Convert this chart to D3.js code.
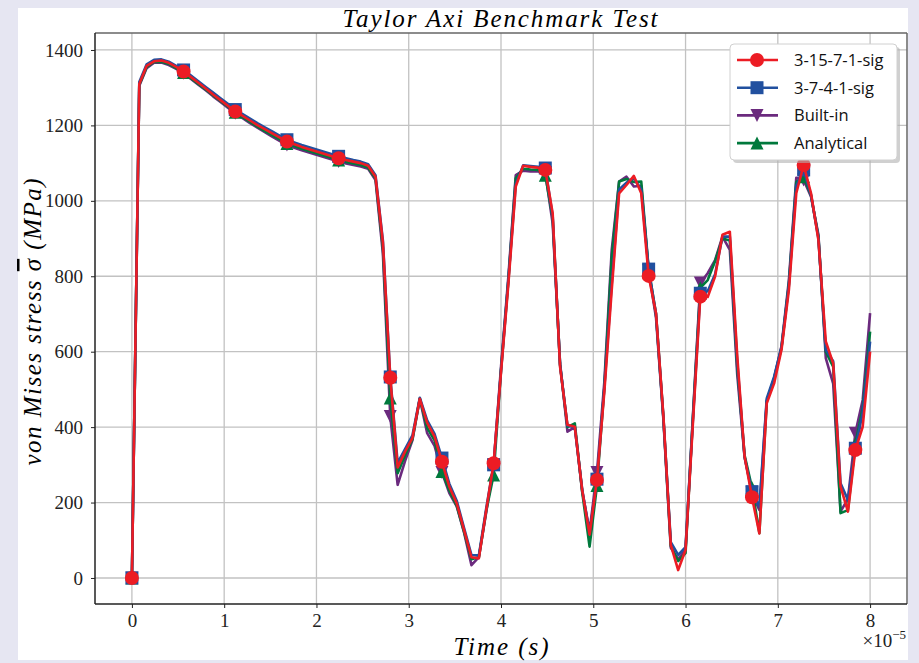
<!DOCTYPE html>
<html>
<head>
<meta charset="utf-8">
<script src="https://cdn.jsdelivr.net/npm/d3@7"></script>
<style>
  body { margin: 0; background: #e6e6f2; }
  svg { display: block; }
</style>
</head>
<body>
<svg id="chart" width="919" height="663"></svg>
<script>
// time in units of 1e-5 s
var time = [0,0.08,0.16,0.24,0.32,0.4,0.48,0.56,0.64,0.72,0.8,0.88,0.96,1.04,1.12,1.2,1.28,1.36,1.44,1.52,
  1.6,1.68,1.76,1.84,1.92,2,2.08,2.16,2.24,2.32,2.4,2.48,2.56,2.64,2.72,2.8,2.88,2.96,3.04,3.12,
  3.2,3.28,3.36,3.44,3.52,3.6,3.68,3.76,3.84,3.92,4,4.08,4.16,4.24,4.32,4.4,4.48,4.56,4.64,4.72,
  4.8,4.88,4.96,5.04,5.12,5.2,5.28,5.36,5.44,5.52,5.6,5.68,5.76,5.84,5.92,6,6.08,6.16,6.24,6.32,
  6.4,6.48,6.56,6.64,6.72,6.8,6.88,6.96,7.04,7.12,7.2,7.28,7.36,7.44,7.52,7.6,7.68,7.76,7.84,7.92,8];

var net3_15_7_1 = [0,1310,1358,1370,1372,1366,1355,1343,1328,1313,
  1298,1282,1267,1252,1237,1225,1213,1201,1190,1179,
  1168,1157,1150,1143,1137,1131,1125,1119,1113,1108,
  1104,1100,1093,1064,890,531,293,335,371,475,
  411,375,308,242,198,127,55,52,180,304,
  545,780,1038,1093,1090,1088,1082,967,560,406,
  401,233,115,260,494,764,1020,1042,1066,1020,
  801,702,430,88,21,74,411,746,745,799,
  910,918,590,322,214,118,463,516,605,764,
  1020,1095,1020,896,627,569,242,176,339,401,
  600];

var net3_7_4_1 = [0,1315,1362,1374,1375,1369,1358,1347,1332,1317,
  1302,1287,1272,1257,1242,1230,1218,1206,1195,1184,
  1173,1162,1155,1148,1142,1136,1130,1124,1118,1113,
  1108,1104,1097,1068,895,533,305,342,378,478,
  418,382,318,250,205,132,61,60,185,300,
  550,790,1045,1094,1092,1090,1087,960,565,404,
  400,235,118,262,505,780,1030,1048,1060,1030,
  819,700,425,95,61,82,420,755,760,805,
  905,905,575,320,229,189,476,534,612,775,
  1040,1082,1015,900,605,575,251,207,344,438,
  627];

var builtIn = [0,1305,1352,1366,1367,1360,1350,1338,1323,1308,
  1293,1277,1262,1247,1232,1219,1206,1194,1182,1170,
  1159,1148,1141,1134,1128,1122,1116,1110,1104,1099,
  1095,1091,1085,1055,860,428,247,310,365,475,
  384,350,280,225,190,120,34,55,175,300,
  560,800,1068,1080,1078,1078,1075,940,570,388,
  400,230,125,280,520,870,1051,1064,1038,1040,
  815,690,420,80,50,75,430,782,808,843,
  905,870,540,320,225,180,470,530,615,790,
  1061,1055,1011,910,583,515,176,210,384,472,
  702];

var analytical = [0,1308,1355,1368,1369,1363,1352,1340,1325,1310,
  1295,1280,1265,1250,1235,1222,1209,1197,1185,1174,
  1163,1152,1145,1138,1132,1126,1120,1114,1108,1103,
  1099,1095,1088,1060,875,477,278,325,368,476,
  398,365,282,232,192,122,50,55,178,273,
  550,790,1060,1085,1083,1082,1068,955,565,400,
  410,228,83,245,505,850,1051,1058,1050,1051,
  820,700,425,85,45,66,425,769,790,840,
  900,895,560,325,240,119,468,528,610,780,
  1050,1064,1015,905,600,560,172,180,355,450,
  653];

var xTicks = [0,1,2,3,4,5,6,7,8];
var yTicks = [0,200,400,600,800,1000,1200,1400];

// legend order
var series = [
  { name: "3-15-7-1-sig", values: net3_15_7_1, color: "#ec1c24", marker: "circle" },
  { name: "3-7-4-1-sig",  values: net3_7_4_1,  color: "#21509f", marker: "square" },
  { name: "Built-in",     values: builtIn,     color: "#6b2a7e", marker: "tridown" },
  { name: "Analytical",   values: analytical,  color: "#00793c", marker: "triup" }
];
var drawOrder = [2, 3, 1, 0];
var markEvery = 7;

var pLeft = 95, pRight = 907, pTop = 33, pBottom = 604;
var serif = "'Liberation Serif', serif";
var svg = d3.select("#chart");

svg.append("rect").attr("x", 18).attr("y", 8).attr("width", 890).attr("height", 652).attr("fill", "#fff");

var scX = d3.scaleLinear().domain([-0.4, 8.4]).range([pLeft, pRight]);
var scY = d3.scaleLinear().domain([-69, 1445]).range([pBottom, pTop]);

// grid
var grid = svg.append("g").attr("stroke", "#c2c2c2").attr("stroke-width", 1.3);
grid.selectAll("line.gx").data(xTicks).enter().append("line")
  .attr("x1", d => scX(d)).attr("x2", d => scX(d)).attr("y1", pTop).attr("y2", pBottom);
grid.selectAll("line.gy").data(yTicks).enter().append("line")
  .attr("x1", pLeft).attr("x2", pRight).attr("y1", d => scY(d)).attr("y2", d => scY(d));

// axes
var xAxis = svg.append("g").attr("transform", "translate(0," + pBottom + ")")
  .call(d3.axisBottom(scX).tickValues(xTicks).tickFormat(d3.format("d")).tickSize(4).tickPadding(6));
var yAxis = svg.append("g").attr("transform", "translate(" + pLeft + ",0)")
  .call(d3.axisLeft(scY).tickValues(yTicks).tickFormat(d3.format("d")).tickSize(4).tickPadding(8));
[xAxis, yAxis].forEach(function (a) {
  a.select(".domain").remove();
  a.selectAll("text").attr("font-family", serif).attr("font-size", 19).attr("fill", "#222");
  a.selectAll("line").attr("stroke", "#222");
});

// frame
svg.append("line").attr("x1", pLeft).attr("x2", pRight).attr("y1", pTop).attr("y2", pTop).attr("stroke", "#666").attr("stroke-width", 1.5);
svg.append("line").attr("x1", pRight).attr("x2", pRight).attr("y1", pTop).attr("y2", pBottom).attr("stroke", "#666").attr("stroke-width", 1.5);
svg.append("line").attr("x1", pLeft).attr("x2", pLeft).attr("y1", pTop).attr("y2", pBottom).attr("stroke", "#222").attr("stroke-width", 1.5);
svg.append("line").attr("x1", pLeft).attr("x2", pRight).attr("y1", pBottom).attr("y2", pBottom).attr("stroke", "#222").attr("stroke-width", 1.5);

function markerPath(type, s) {
  if (type == "circle") return d3.symbol(d3.symbolCircle, Math.PI * s * s / 4)();
  if (type == "square") return d3.symbol(d3.symbolSquare, s * s)();
  var h = s * 0.5;
  if (type == "triup") return "M0," + (-h) + "L" + h + "," + h + "L" + (-h) + "," + h + "Z";
  return "M0," + h + "L" + h + "," + (-h) + "L" + (-h) + "," + (-h) + "Z";
}

var lineMaker = d3.line().x((d, i) => scX(time[i])).y(d => scY(d));

drawOrder.forEach(function (k) {
  var s = series[k];
  var g = svg.append("g");
  g.append("path").attr("d", lineMaker(s.values))
    .attr("fill", "none").attr("stroke", s.color).attr("stroke-width", 2.6).attr("stroke-linejoin", "round");
  var pts = s.values.map((v, i) => [time[i], v]).filter((d, i) => i % markEvery == 0);
  g.selectAll("path.m").data(pts).enter().append("path")
    .attr("d", markerPath(s.marker, s.marker == "circle" ? 14 : 13))
    .attr("transform", d => "translate(" + scX(d[0]) + "," + scY(d[1]) + ")")
    .attr("fill", s.color);
});

// title and labels
svg.append("text").attr("x", 500).attr("y", 27).attr("text-anchor", "middle")
  .attr("font-family", serif).attr("font-style", "italic").attr("font-size", 25)
  .attr("textLength", 315).attr("lengthAdjust", "spacing")
  .text("Taylor Axi Benchmark Test");

svg.append("text").attr("x", 501).attr("y", 655).attr("text-anchor", "middle")
  .attr("font-family", serif).attr("font-style", "italic").attr("font-size", 25)
  .attr("textLength", 95).attr("lengthAdjust", "spacing")
  .text("Time (s)");

var yl = svg.append("text").attr("transform", "translate(41,322) rotate(-90)").attr("text-anchor", "middle")
  .attr("font-family", serif).attr("font-style", "italic").attr("font-size", 25)
  .attr("textLength", 287).attr("lengthAdjust", "spacing");
yl.append("tspan").text("von Mises stress ");
yl.append("tspan").attr("text-decoration", "overline").text("\u03C3");
yl.append("tspan").text(" (MPa)");

var sci = svg.append("text").attr("x", 906).attr("y", 647).attr("text-anchor", "end")
  .attr("font-family", serif).attr("font-size", 19).attr("fill", "#222");
sci.append("tspan").text("\u00D710");
sci.append("tspan").attr("dy", -8).attr("font-size", 13).text("\u22125");

// legend
var lg = svg.append("g");
lg.append("rect").attr("x", 733).attr("y", 47).attr("width", 167).attr("height", 116).attr("rx", 4)
  .attr("fill", "#b0b0b0").attr("opacity", 0.6);
lg.append("rect").attr("x", 730).attr("y", 44).attr("width", 167).attr("height", 116).attr("rx", 4)
  .attr("fill", "#fff").attr("stroke", "#d0d0d0").attr("stroke-width", 1);
series.forEach(function (s, i) {
  var y = 60 + i * 27.7;
  lg.append("line").attr("x1", 737).attr("x2", 778).attr("y1", y).attr("y2", y)
    .attr("stroke", s.color).attr("stroke-width", 2.6);
  lg.append("path").attr("d", markerPath(s.marker, s.marker == "circle" ? 14 : 13))
    .attr("transform", "translate(757," + y + ")").attr("fill", s.color);
  lg.append("text").attr("x", 794).attr("y", y + 6)
    .attr("font-family", "'Open Sans', sans-serif").attr("font-size", 16.5).attr("fill", "#111")
    .text(s.name);
});
</script>
</body>
</html>
